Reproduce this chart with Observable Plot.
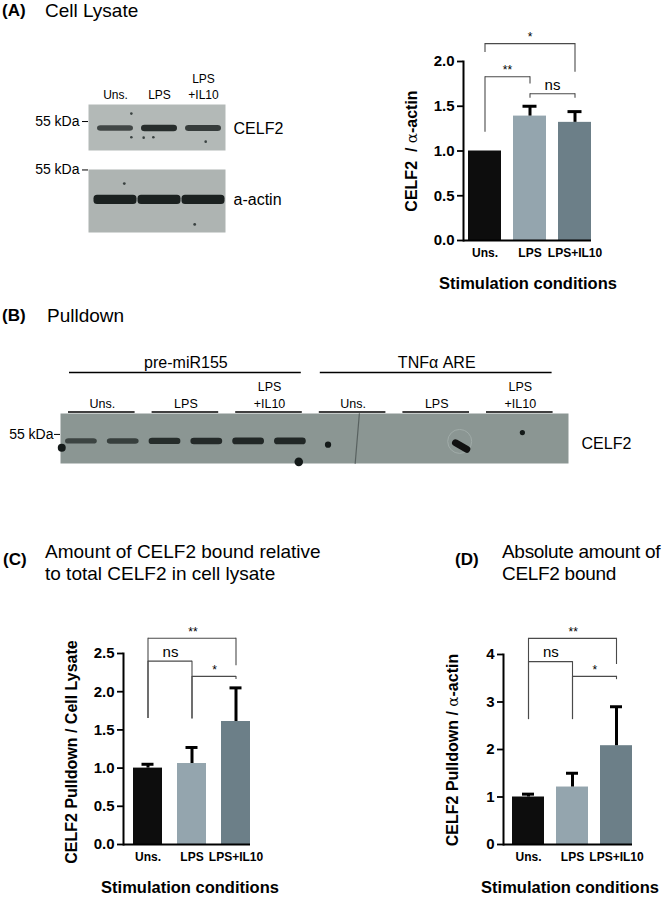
<!DOCTYPE html>
<html><head><meta charset="utf-8">
<script src="https://cdn.jsdelivr.net/npm/d3@7"></script>
<script src="https://cdn.jsdelivr.net/npm/@observablehq/plot@0.6"></script>
<style>
html,body{margin:0;padding:0;background:#fff;overflow:hidden}
#fig{position:relative;width:663px;height:899px;overflow:hidden;font-family:"Liberation Sans",Arial,sans-serif;color:#000}
.abs{position:absolute;white-space:nowrap;line-height:20px}
.panel{font-weight:bold;font-size:17px}
.title{font-size:19px;line-height:21.5px}
.tight{letter-spacing:-0.3px}
.ylab{font-weight:bold;font-size:16px;transform:translate(-50%,-50%) rotate(-90deg)}
.xlab{font-weight:bold;font-size:16.5px;transform:translate(-50%,-50%)}
.alpha{font-family:"DejaVu Serif","Liberation Serif",serif;font-weight:normal;font-size:15px}
g[aria-label="band"]{filter:blur(0.8px)}
svg{position:absolute}
</style></head><body><div id="fig"></div>
<script>
// ---------------- data ----------------
const conditions = ["Uns.", "LPS", "LPS+IL10"];
const barColors = ["#0d0d0d", "#94a5ae", "#6c7f88"];

// (A) CELF2 / alpha-actin in cell lysate
const meanA  = [1.00, 1.39, 1.32];
const upperA = [1.00, 1.50, 1.44];
const ticksA = [0, 0.5, 1, 1.5, 2];
// (C) CELF2 pulldown / cell lysate
const meanC  = [1.00, 1.06, 1.61];
const upperC = [1.05, 1.27, 2.05];
const ticksC = [0, 0.5, 1, 1.5, 2, 2.5];
// (D) CELF2 pulldown / alpha-actin
const meanD  = [1.00, 1.21, 2.08];
const upperD = [1.06, 1.50, 2.90];
const ticksD = [0, 1, 2, 3, 4];

// significance brackets: level of bar, bottom of left leg, bottom of right leg
const sigA = [
  {a: "Uns.", b: "LPS+IL10", level: 2.20, aEnd: 2.10, bEnd: 1.88, label: "*"},
  {a: "Uns.", b: "LPS",      level: 1.83, aEnd: 1.21, bEnd: 1.75, label: "**"},
  {a: "LPS",  b: "LPS+IL10", level: 1.64, aEnd: 1.59, bEnd: 1.59, label: "ns"}
];
const sigC = [
  {a: "Uns.", b: "LPS+IL10", level: 2.70, aEnd: 1.65, bEnd: 2.34, label: "**"},
  {a: "Uns.", b: "LPS",      level: 2.40, aEnd: 1.65, bEnd: 1.64, label: "ns"},
  {a: "LPS",  b: "LPS+IL10", level: 2.20, aEnd: 1.65, bEnd: 2.16, label: "*"}
];
const sigD = [
  {a: "Uns.", b: "LPS+IL10", level: 4.34, aEnd: 2.63, bEnd: 3.79, label: "**"},
  {a: "Uns.", b: "LPS",      level: 3.85, aEnd: 2.63, bEnd: 2.63, label: "ns"},
  {a: "LPS",  b: "LPS+IL10", level: 3.54, aEnd: 2.63, bEnd: 3.47, label: "*"}
];

// western blots (lane index, band intensity 0..1, molecular weight in kDa)
const laneLabels = ["Uns.", "LPS", "LPS\n+IL10"];
const markerKDa = 55, celf2KDa = 52, actinKDa = 42;
const lysateCelf2 = [0.75, 0.92, 0.82];
const lysateActin = [1, 1, 1];
const lysateCelf2Specks = [{lane: 0.86, kDa: 48.3}, {lane: 1.14, kDa: 48.1}, {lane: 1.36, kDa: 48.3}, {lane: 2.55, kDa: 46.4}, {lane: 0.86, kDa: 58.4}];
const lysateActinSpecks = [{lane: 0.7, kDa: 49.1}, {lane: 2.3, kDa: 31.4}];
const pulldownGroups = ["pre-miR155", "TNF\u03b1 ARE"];
const pulldownCelf2 = [0.70, 0.75, 0.90, 0.92, 0.95, 0.95, 0, 0, 0, 0, 0, 0];
const pulldownSpecks = [{lane: 0.03, kDa: 49.3, r: 2.6}, {lane: 5.7, kDa: 43.2, r: 3}, {lane: 6.4, kDa: 50.6, r: 1.6}, {lane: 11.05, kDa: 55.8, r: 1.1}];
const pulldownSmudge = [{lane: 9.45, kDa: 51.4}, {lane: 9.72, kDa: 48.6}];
const pulldownScratch = [{lane: 7.15, kDa: 64}, {lane: 7.05, kDa: 42.5}];

// ---------------- helpers ----------------
const fig = document.getElementById("fig");
const FONT = '"Liberation Sans", Arial, sans-serif';
function place(el, left, top) { el.style.left = left + "px"; el.style.top = top + "px"; fig.appendChild(el); }
function html(cls, text, left, top) {
  const d = document.createElement("div"); d.className = "abs " + cls; d.innerHTML = text; place(d, left, top); return d;
}

function barChart(o) {
  const n = conditions.length;
  const innerW = o.width - o.marginLeft - o.marginRight;
  const step = innerW / (n - o.paddingInner + 2 * o.paddingOuter);
  const idx = c => conditions.indexOf(c);
  const rows = conditions.map((c, i) => ({cond: c, mean: o.means[i], upper: o.uppers[i]}));
  const errRows = rows.filter(d => d.upper > d.mean);
  const br = {stroke: "#4a4a4a", strokeWidth: 1.1};
  return Plot.plot({
    width: o.width, height: o.height,
    marginLeft: o.marginLeft, marginRight: o.marginRight, marginTop: o.marginTop, marginBottom: o.marginBottom,
    x: {type: "band", domain: conditions, paddingInner: o.paddingInner, paddingOuter: o.paddingOuter, align: 1},
    y: {domain: o.yDomain},
    color: {domain: conditions, range: barColors},
    style: {fontFamily: FONT, color: "#000", background: "transparent", overflow: "visible"},
    marks: [
      Plot.barY(rows, {x: "cond", y: "mean", fill: "cond"}),
      Plot.ruleX(errRows, {x: "cond", y1: "mean", y2: "upper", stroke: "#000", strokeWidth: 3}),
      Plot.tickY(errRows, {x: "cond", y: "upper", stroke: "#000", strokeWidth: 3, insetLeft: o.capInset, insetRight: o.capInset}),
      Plot.link(o.sig, {x1: "a", x2: "b", y1: "level", y2: "level", ...br}),
      Plot.ruleX(o.sig, {x: "a", y1: "aEnd", y2: "level", ...br}),
      Plot.ruleX(o.sig, {x: "b", y1: "bEnd", y2: "level", ...br}),
      ...o.sig.map(s => Plot.text([s], {x: "a", y: "level", text: "label",
        dx: (idx(s.b) - idx(s.a)) * step / 2,
        dy: s.label === "ns" ? -9 : -6.5, fontSize: s.label === "ns" ? 15 : 12})),
      Plot.frame({anchor: "left", strokeWidth: 2}),
      Plot.ruleY([0], {strokeWidth: 2}),
      Plot.axisY({ticks: o.ticks, tickFormat: o.fmt, tickSize: 6, tickPadding: 3, fontSize: 15, fontWeight: "bold", strokeWidth: 1.8, label: null}),
      Plot.axisX({tickSize: 0, tickPadding: 8, fontSize: 12, fontWeight: "bold", label: null})
    ]
  });
}

function bandRect(rows, half, inset) {
  return Plot.rect(rows, {x1: "lane", x2: d => d.lane + 1, y1: d => d.kDa - half(d), y2: d => d.kDa + half(d),
    insetLeft: inset, insetRight: inset, rx: 3.5, fill: "#1b2120", fillOpacity: "intensity", ariaLabel: "band"});
}

// ---------------- titles ----------------
html("panel", "(A)", 2, 1);
html("title", "Cell Lysate", 45, 0);
html("panel", "(B)", 2, 306);
html("title", "Pulldown", 47, 305);
html("panel", "(C)", 3, 550);
html("title", "Amount of CELF2 bound relative<br>to total CELF2 in cell lysate", 45, 541);
html("panel", "(D)", 455, 550);
html("title tight", "Absolute amount of<br>CELF2 bound", 502, 541);

// ---------------- (A) blots ----------------
{
  const rows = lysateCelf2.map((v, i) => ({lane: i, kDa: celf2KDa, intensity: v}));
  const p = Plot.plot({
    width: 300, height: 92, marginLeft: 88, marginRight: 75, marginTop: 44, marginBottom: 2,
    x: {domain: [0, 3], insetLeft: 5},
    y: {domain: [42.6, 62.3]},
    style: {fontFamily: FONT, color: "#000", background: "transparent", overflow: "visible"},
    marks: [
      Plot.frame({fill: "#b3b9b7", stroke: "none"}),
      bandRect(rows, d => 0.2 + 1.3 * d.intensity, 4),
      Plot.dot(lysateCelf2Specks, {x: "lane", y: "kDa", r: 1.3, fill: "#3a4241", stroke: "none"}),
      Plot.axisY({anchor: "left", ticks: [markerKDa], tickFormat: d => d + " kDa", tickSize: 6, tickPadding: 3, fontSize: 14, label: null}),
      Plot.axisY({anchor: "right", ticks: [celf2KDa], tickFormat: () => "CELF2", tickSize: 0, tickPadding: 8, fontSize: 16, label: null}),
      Plot.axisX({anchor: "top", ticks: [0.5, 1.5, 2.5], tickFormat: d => laneLabels[Math.floor(d)], tickSize: 0, tickPadding: 6, fontSize: 12, lineHeight: 1.3, label: null})
    ]
  });
  place(p, 0, 60);
}
{
  const rows = lysateActin.map((v, i) => ({lane: i, kDa: actinKDa, intensity: v}));
  const p = Plot.plot({
    width: 300, height: 75, marginLeft: 88, marginRight: 75, marginTop: 9, marginBottom: 3,
    x: {domain: [0, 3], insetLeft: 5, axis: null},
    y: {domain: [27.9, 55.2]},
    style: {fontFamily: FONT, color: "#000", background: "transparent", overflow: "visible"},
    marks: [
      Plot.frame({fill: "#aeb4b2", stroke: "none"}),
      bandRect(rows, () => 2.0, 0.5),
      Plot.dot(lysateActinSpecks, {x: "lane", y: "kDa", r: 1.4, fill: "#3a4241", stroke: "none"}),
      Plot.axisY({anchor: "left", ticks: [markerKDa], tickFormat: d => d + " kDa", tickSize: 6, tickPadding: 3, fontSize: 14, label: null}),
      Plot.axisY({anchor: "right", ticks: [actinKDa], tickFormat: () => "a-actin", tickSize: 0, tickPadding: 8, fontSize: 16, label: null})
    ]
  });
  place(p, 0, 160);
}

// ---------------- (A) bar chart ----------------
place(barChart({means: meanA, uppers: upperA, sig: sigA, ticks: ticksA, fmt: d3.format(".1f"), yDomain: [0, 2],
  width: 240, height: 245, marginLeft: 83, marginRight: 29, marginTop: 41, marginBottom: 25,
  paddingInner: 0.267, paddingOuter: 0.0556, capInset: 9.5}), 380, 20);
html("ylab", 'CELF2 &nbsp;/ <span class="alpha">\u03b1</span>-actin', 412, 151);
html("xlab", "Stimulation conditions", 528, 283);

// ---------------- (B) pulldown blot ----------------
{
  const rows = pulldownCelf2.map((v, i) => ({lane: i, kDa: celf2KDa, intensity: v})).filter(d => d.intensity > 0);
  const pairs = d3.range(0, 12, 2).map(s => ({start: s}));
  const groups = pulldownGroups.map((g, i) => ({name: g, start: i * 6}));
  const top = 64;
  const p = Plot.plot({
    width: 663, height: 120, marginLeft: 60, marginRight: 95, marginTop: 68, marginBottom: 2,
    x: {domain: [0, 12], insetRight: 6.4},
    y: {domain: [42.5, top]},
    style: {fontFamily: FONT, color: "#000", background: "transparent", overflow: "visible"},
    marks: [
      Plot.frame({fill: "#8b9693", stroke: "none"}),
      Plot.line(pulldownScratch, {x: "lane", y: "kDa", stroke: "#2f3736", strokeOpacity: 0.55, strokeWidth: 1.2}),
      bandRect(rows, d => 0.2 + 1.3 * d.intensity, 5),
      Plot.dot(pulldownSpecks, {x: "lane", y: "kDa", r: "r", fill: "#141a19", stroke: "none"}),
      Plot.dot([{lane: 9.55, kDa: 52}], {x: "lane", y: "kDa", r: 12, stroke: "#a0aba8", strokeWidth: 1, fill: "none"}),
      Plot.line(pulldownSmudge, {x: "lane", y: "kDa", stroke: "#111", strokeWidth: 7, strokeLinecap: "round"}),
      Plot.ruleY(pairs, {x1: "start", x2: d => d.start + 2, y: () => top, dy: -1.5, insetLeft: 8, insetRight: 9, strokeWidth: 1.6}),
      Plot.ruleY(groups, {x1: "start", x2: d => d.start + 6, y: () => top, dy: -41, insetLeft: 9, insetRight: 10, strokeWidth: 1.6}),
      Plot.text(groups, {x: d => d.start + 3, y: () => top, text: "name", dy: -51, fontSize: 16}),
      Plot.axisY({anchor: "left", ticks: [markerKDa], tickFormat: d => d + " kDa", tickSize: 6, tickPadding: 1, fontSize: 14, label: null}),
      Plot.axisY({anchor: "right", ticks: [51], tickFormat: () => "CELF2", tickSize: 0, tickPadding: 13, fontSize: 16, label: null}),
      Plot.axisX({anchor: "top", ticks: d3.range(1, 12, 2), tickFormat: d => laneLabels[((d - 1) / 2) % 3], tickSize: 0, tickPadding: 6, fontSize: 12.5, lineHeight: 1.3, label: null})
    ]
  });
  place(p, 0, 345);
}

// ---------------- (C) bar chart ----------------
place(barChart({means: meanC, uppers: upperC, sig: sigC, ticks: ticksC, fmt: d3.format(".1f"), yDomain: [0, 2.5],
  width: 230, height: 270, marginLeft: 83, marginRight: 20, marginTop: 53, marginBottom: 26,
  paddingInner: 0.333, paddingOuter: 0.078, capInset: 8.5}), 40, 600);
html("ylab", "CELF2 Pulldown / Cell Lysate", 72, 752);
html("xlab", "Stimulation conditions", 190, 887);

// ---------------- (D) bar chart ----------------
place(barChart({means: meanD, uppers: upperD, sig: sigD, ticks: ticksD, fmt: d3.format("d"), yDomain: [0, 4],
  width: 243, height: 270, marginLeft: 83, marginRight: 31, marginTop: 54, marginBottom: 26,
  paddingInner: 0.27, paddingOuter: 0.075, capInset: 10}), 420, 600);
html("ylab", 'CELF2 Pulldown / <span class="alpha">\u03b1</span>-actin', 453, 750);
html("xlab", "Stimulation conditions", 570, 887);
</script></body></html>
